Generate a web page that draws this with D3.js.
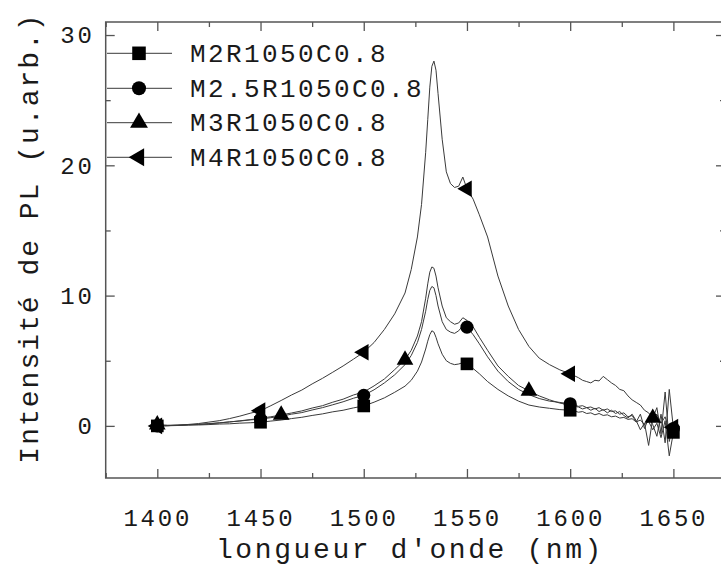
<!DOCTYPE html>
<html><head><meta charset="utf-8">
<script src="https://cdn.jsdelivr.net/npm/d3@7"></script>
<style>body{margin:0;background:#fff}svg{display:block;overflow:hidden}</style>
</head><body><svg id="c" width="721" height="565"></svg>
<script>
// ---- data ----
const wavelengths = [1400,1405,1410,1415,1420,1425,1430,1435,1440,1445,1450,1455,1460,1465,1470,1475,1480,1485,1490,1495,1500,1505,1510,1515,1520,
  1523,1526,1528,1530,1531,1532,1533,1534,1535,1536,1538,1540,1542,1544,1546,1548,1550,1553,1556,1560,1565,1570,1575,1580,1585,1590,1595,1600,
  1602,1604,1606,1608,1610,1612,1614,1616,1618,1620,1622,1624,1626,1628,1630,1632,1634,1636,1638,1640,1642,1644,1646,1648,1650];

const seriesNames = ["M2R1050C0.8","M2.5R1050C0.8","M3R1050C0.8","M4R1050C0.8"];

const valuesM2 = [0,0.01,0.03,0.06,0.07,0.1,0.14,0.16,0.21,0.24,0.28,0.37,0.45,0.56,0.66,0.8,0.92,1.08,1.2,1.38,1.53,1.82,2.15,2.58,3.05,
  3.5,4.2,4.9,5.9,6.5,7.0,7.3,7.2,6.8,6.3,5.5,5.0,4.8,4.7,4.75,4.85,4.76,4.4,4.0,3.4,2.8,2.3,1.9,1.6,1.45,1.35,1.25,1.2,
  1.15,1.05,1.1,0.95,1.0,0.85,0.95,0.8,0.85,0.7,0.75,0.6,0.65,0.5,0.55,0.3,0.45,0.1,0.35,-0.3,0.2,-0.9,0.4,-2.3,-0.5];

const valuesM25 = [0,0.02,0.05,0.09,0.12,0.18,0.23,0.31,0.37,0.46,0.52,0.63,0.74,0.9,1.02,1.22,1.4,1.62,1.85,2.12,2.35,2.77,3.3,3.92,4.7,
  5.4,6.4,7.4,8.8,9.7,10.4,10.7,10.6,10.0,9.2,8.0,7.4,7.2,7.1,7.3,7.7,7.58,7.0,6.3,5.3,4.2,3.4,2.8,2.4,2.1,1.9,1.8,1.7,
  1.6,1.5,1.55,1.4,1.45,1.3,1.4,1.2,1.3,1.1,1.15,0.9,1.0,0.7,0.8,0.3,0.9,-0.2,0.6,0.1,-0.8,0.9,-1.3,2.8,-0.2];

const valuesM3 = [0.1,0.05,0.06,0.08,0.11,0.15,0.23,0.3,0.39,0.48,0.59,0.7,0.84,0.99,1.15,1.37,1.55,1.82,2.05,2.37,2.6,3.07,3.6,4.32,5.07,
  5.8,6.9,8.0,9.8,10.9,11.8,12.2,12.1,11.5,10.6,9.2,8.3,8.0,7.8,7.9,8.3,8.1,7.6,6.8,5.8,4.6,3.8,3.1,2.69,2.3,2.0,1.75,1.6,
  1.5,1.45,1.3,1.4,1.2,1.35,1.1,1.25,1.0,1.2,0.95,1.1,0.8,0.6,0.9,0.4,-0.3,0.2,-1.5,0.6,1.4,-0.6,2.6,-1.2,0.3];

const valuesM4 = [0,0.02,0.05,0.11,0.18,0.29,0.4,0.56,0.75,0.97,1.17,1.55,1.95,2.37,2.75,3.22,3.65,4.12,4.6,5.12,5.65,6.4,7.4,8.6,10.2,
  12.0,14.5,17.0,21.0,23.5,26.0,27.6,28.0,27.3,25.5,22.0,19.5,18.6,18.3,18.4,19.1,18.2,17.4,16.2,14.5,11.5,9.2,7.4,6.1,5.2,4.7,4.3,4.0,
  3.85,3.7,3.5,3.4,3.3,3.5,3.45,3.8,3.55,3.3,3.1,2.8,2.7,2.3,2.0,1.8,1.6,1.2,1.0,0.6,0.9,0.2,0.7,-0.4,-0.1];

const markersM2 = [1400,1450,1500,1550,1600,1650];
const markersM25 = [1400,1450,1500,1550,1600,1650];
const markersM3 = [1400,1460,1520,1580,1640];
const markersM4 = [1400,1450,1500,1550,1600,1650];

const xMajorTicks = [1400,1450,1500,1550,1600,1650];
const xMinorTicks = [1375,1425,1475,1525,1575,1625];
const yMajorTicks = [0,10,20,30];
const yMinorTicks = [5,15,25];

const xTitle = "longueur d'onde (nm)";
const yTitle = "Intensité de PL (u.arb.)";

// ---- drawing ----
const L = 105.7, R = 725, T = 22, B = 478;
const x = d3.scaleLinear().domain([1375,1675]).range([L,R]);
const y = d3.scaleLinear().domain([-4,31]).range([B,T]);
const svg = d3.select("#c");
const FONT = "'Liberation Mono', 'Courier New', monospace";
const frameColor = "#555";
const textColor = "#1a1a1a";

const series = [
  {name: seriesNames[0], values: valuesM2, markers: markersM2, sym: d3.symbolSquare, size: 160, rot: 0},
  {name: seriesNames[1], values: valuesM25, markers: markersM25, sym: d3.symbolCircle, size: 135, rot: 0},
  {name: seriesNames[2], values: valuesM3, markers: markersM3, sym: d3.symbolTriangle, size: 120, rot: 0},
  {name: seriesNames[3], values: valuesM4, markers: markersM4, sym: d3.symbolTriangle, size: 120, rot: -90}
];

const line = d3.line().x(d => x(d[0])).y(d => y(d[1]));
series.forEach(s => {
  const pts = wavelengths.map((w,i) => [w, s.values[i]]);
  svg.append("path").attr("d", line(pts)).attr("fill","none")
    .attr("stroke","#3a3a3a").attr("stroke-width",1).attr("stroke-linejoin","round");
});
series.forEach(s => {
  s.markers.forEach(w => {
    const i = wavelengths.indexOf(w);
    svg.append("path").attr("d", d3.symbol().type(s.sym).size(s.size)())
      .attr("transform", `translate(${x(w)},${y(s.values[i])}) rotate(${s.rot})`)
      .attr("fill","#000");
  });
});

// axes
function styleAxis(g){
  g.select(".domain").remove();
  g.selectAll("line").attr("stroke",frameColor).attr("stroke-width",1.3);
  g.selectAll("text").attr("font-family",FONT).attr("font-size",24)
    .attr("letter-spacing","2.8px").attr("fill",textColor);
}
svg.append("g").attr("transform",`translate(0,${B})`)
  .call(d3.axisBottom(x).tickValues(xMajorTicks).tickSize(-9).tickPadding(31).tickFormat(d3.format("d")))
  .call(styleAxis);
svg.append("g").attr("transform",`translate(0,${B})`)
  .call(d3.axisBottom(x).tickValues(xMinorTicks).tickSize(-5).tickFormat(""))
  .call(styleAxis);
svg.append("g").attr("transform",`translate(0,${T})`)
  .call(d3.axisTop(x).tickValues(xMajorTicks).tickSize(-9).tickFormat(""))
  .call(styleAxis);
svg.append("g").attr("transform",`translate(0,${T})`)
  .call(d3.axisTop(x).tickValues(xMinorTicks).tickSize(-5).tickFormat(""))
  .call(styleAxis);
svg.append("g").attr("transform",`translate(${L},0)`)
  .call(d3.axisLeft(y).tickValues(yMajorTicks).tickSize(-9).tickPadding(11).tickFormat(d3.format("d")))
  .call(styleAxis);
svg.append("g").attr("transform",`translate(${L},0)`)
  .call(d3.axisLeft(y).tickValues(yMinorTicks).tickSize(-5).tickFormat(""))
  .call(styleAxis);
svg.append("g").attr("transform",`translate(${R},0)`)
  .call(d3.axisRight(y).tickValues(yMajorTicks).tickSize(-9).tickFormat(""))
  .call(styleAxis);
svg.append("g").attr("transform",`translate(${R},0)`)
  .call(d3.axisRight(y).tickValues(yMinorTicks).tickSize(-5).tickFormat(""))
  .call(styleAxis);

svg.append("rect").attr("x",L).attr("y",T).attr("width",R-L).attr("height",B-T)
  .attr("fill","none").attr("stroke",frameColor).attr("stroke-width",1.5);

// titles
svg.append("text").attr("x",410).attr("y",558).attr("text-anchor","middle")
  .attr("font-family",FONT).attr("font-size",28).attr("letter-spacing","2.6px")
  .attr("fill",textColor).text(xTitle);
svg.append("text").attr("transform","translate(38,238) rotate(-90)").attr("text-anchor","middle")
  .attr("font-family",FONT).attr("font-size",28).attr("letter-spacing","2px")
  .attr("fill",textColor).text(yTitle);

// legend
const legY = [53.3, 88.3, 122.7, 157.3];
series.forEach((s,k) => {
  const g = svg.append("g");
  g.append("line").attr("x1",107).attr("x2",172).attr("y1",legY[k]).attr("y2",legY[k])
    .attr("stroke","#3a3a3a").attr("stroke-width",1);
  g.append("path").attr("d", d3.symbol().type(s.sym).size(s.size*1.15)())
    .attr("transform",`translate(139,${legY[k]}) rotate(${s.rot})`).attr("fill","#000");
  g.append("text").attr("x",190).attr("y",legY[k]+8.5).attr("font-family",FONT)
    .attr("font-size",26).attr("letter-spacing","2.4px").attr("fill",textColor).text(s.name);
});
</script></body></html>
